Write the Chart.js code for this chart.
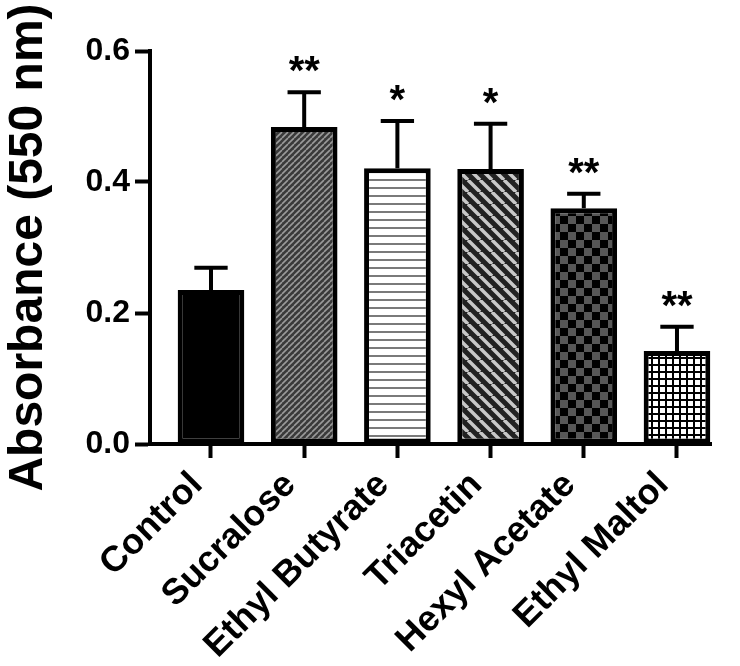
<!DOCTYPE html>
<html>
<head>
<meta charset="utf-8">
<script src="https://cdn.jsdelivr.net/npm/chart.js@4"></script>
<style>
  html, body { margin: 0; padding: 0; background: #fff; }
  #wrap { width: 740px; height: 666px; }
</style>
</head>
<body>
<div id="wrap"><canvas id="myChart" width="740" height="666"></canvas></div>
<script>
var categories = ["Control", "Sucralose", "Ethyl Butyrate", "Triacetin", "Hexyl Acetate", "Ethyl Maltol"];
var absorbance = [0.235, 0.484, 0.421, 0.420, 0.360, 0.142];
var sem = [0.034, 0.053, 0.072, 0.069, 0.022, 0.037];
var stars = ["", "**", "*", "*", "**", "**"];
var yTicks = [0.0, 0.2, 0.4, 0.6];

var FONT = "Arial, 'Liberation Sans', Helvetica, sans-serif";

function tile(w, h, draw) {
    var c = document.createElement("canvas");
    c.width = w; c.height = h;
    var g = c.getContext("2d");
    draw(g, w, h);
    return document.getElementById("myChart").getContext("2d").createPattern(c, "repeat");
}

// diagonal stripes; dir 1 = "/" , dir -1 = "\"
function stripes(size, bg, fg, lw, dir) {
    return tile(size, size, function (g, w, h) {
        g.fillStyle = bg; g.fillRect(0, 0, w, h);
        g.strokeStyle = fg; g.lineWidth = lw;
        g.beginPath();
        for (var k = -1; k <= 1; k++) {
            if (dir > 0) {
                g.moveTo(k * w, h); g.lineTo(k * w + w, 0);
            } else {
                g.moveTo(k * w, 0); g.lineTo(k * w + w, h);
            }
        }
        g.stroke();
    });
}

// fill patterns, one per bar
var fills = [
    "#000000",
    stripes(6, "#3a3a3a", "#9a9a9a", 1.6, 1),
    tile(8, 8, function (g, w, h) {
        g.fillStyle = "#ffffff"; g.fillRect(0, 0, w, h);
        g.fillStyle = "#7a7a7a"; g.fillRect(0, 3, w, 2);
    }),
    stripes(12, "#222222", "#c8c8c8", 3.5, -1),
    tile(16, 16, function (g, w, h) {
        g.fillStyle = "#000000"; g.fillRect(0, 0, w, h);
        g.fillStyle = "#575757";
        g.fillRect(0, 0, 8, 8); g.fillRect(8, 8, 8, 8);
    }),
    tile(7, 7, function (g, w, h) {
        g.fillStyle = "#ffffff"; g.fillRect(0, 0, w, h);
        g.fillStyle = "#000000";
        g.fillRect(0, 0, w, 2); g.fillRect(0, 0, 2, h);
    })
];

var errorBars = {
    id: "errorBars",
    afterDatasetsDraw: function (chart) {
        var ctx = chart.ctx;
        var meta = chart.getDatasetMeta(0);
        var ys = chart.scales.y;
        ctx.save();
        ctx.strokeStyle = "#000";
        ctx.lineWidth = 4;
        ctx.lineCap = "butt";
        meta.data.forEach(function (bar, i) {
            var top = ys.getPixelForValue(absorbance[i] + sem[i]);
            var half = bar.width / 4;
            ctx.beginPath();
            ctx.moveTo(bar.x, bar.y);
            ctx.lineTo(bar.x, top);
            ctx.moveTo(bar.x - half, top);
            ctx.lineTo(bar.x + half, top);
            ctx.stroke();
            if (stars[i]) {
                ctx.fillStyle = "#000";
                ctx.font = "bold 40px " + FONT;
                ctx.textAlign = "center";
                ctx.textBaseline = "alphabetic";
                ctx.fillText(stars[i], bar.x, top - 8);
            }
        });
        ctx.restore();
    }
};

new Chart("myChart", {
    type: "bar",
    data: {
        datasets: [{
            data: absorbance.map(function (v, i) { return { x: i, y: v }; }),
            backgroundColor: fills,
            borderColor: "#000",
            borderWidth: 5,
            borderSkipped: false,
            barPercentage: 0.715,
            categoryPercentage: 1
        }]
    },
    options: {
        responsive: false,
        animation: false,
        layout: { padding: { top: 51, right: 29, left: 0, bottom: 0 } },
        plugins: { legend: { display: false }, tooltip: { enabled: false } },
        scales: {
            x: {
                type: "linear",
                offset: false,
                min: -0.6545,
                max: 5.365,
                afterBuildTicks: function (s) {
                    s.ticks = categories.map(function (c, i) { return { value: i }; });
                },
                afterFit: function (s) { s.height = 222; },
                grid: { offset: false, drawOnChartArea: false, drawTicks: true, tickLength: 14, tickWidth: 4, tickColor: "#000" },
                border: { display: true, width: 4, color: "#000" },
                ticks: {
                    autoSkip: false,
                    maxRotation: 45,
                    minRotation: 45,
                    padding: 6,
                    labelOffset: -14,
                    color: "#000",
                    font: { family: FONT, size: 36, weight: "bold" },
                    callback: function (v) { return categories[v]; }
                }
            },
            y: {
                min: 0,
                max: 0.6,
                afterBuildTicks: function (s) {
                    s.ticks = yTicks.map(function (v) { return { value: v }; });
                },
                afterFit: function (s) { s.width = 150; },
                grid: { drawOnChartArea: false, drawTicks: true, tickLength: 15, tickWidth: 4, tickColor: "#000" },
                border: { display: true, width: 4, color: "#000" },
                ticks: {
                    padding: 5,
                    color: "#000",
                    font: { family: FONT, size: 32, weight: "bold" },
                    callback: function (v) { return v.toFixed(1); }
                },
                title: {
                    display: true,
                    text: "Absorbance (550 nm)",
                    color: "#000",
                    padding: { top: 0, bottom: 2 },
                    font: { family: FONT, size: 48, weight: "bold" }
                }
            }
        }
    },
    plugins: [errorBars]
});
</script>
</body>
</html>
